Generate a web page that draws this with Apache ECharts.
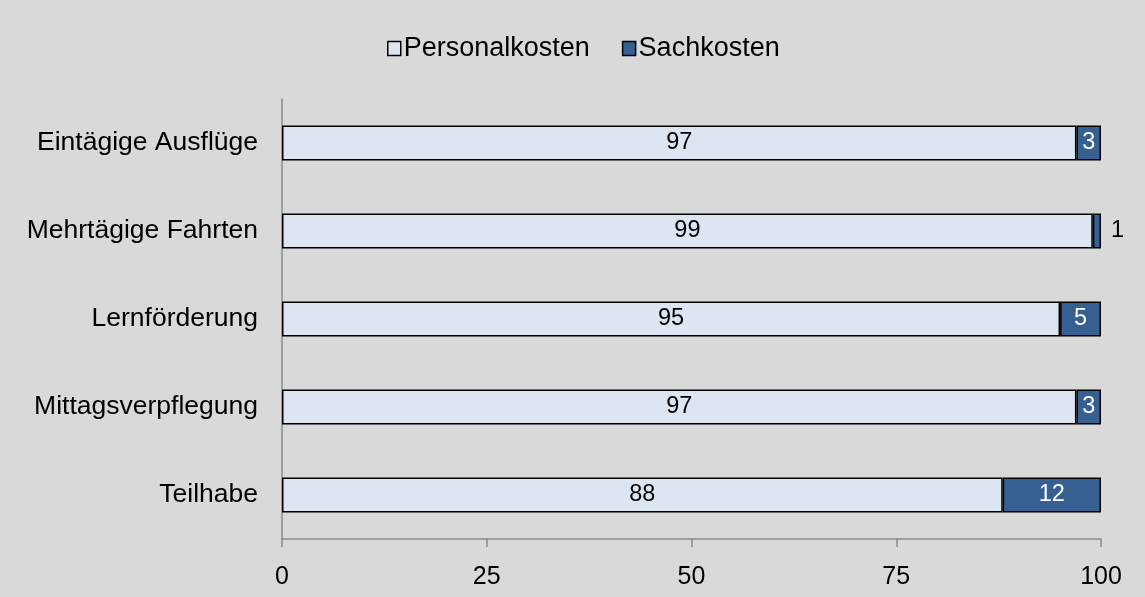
<!DOCTYPE html>
<html>
<head>
<meta charset="utf-8">
<script src="https://cdn.jsdelivr.net/npm/echarts@6/dist/echarts.min.js"></script>
<style>
html,body{margin:0;padding:0;background:#d9d9d9;}
#chart{width:1145px;height:597px;}
</style>
</head>
<body>
<div id="chart"></div>
<script>
var categories = ['Eintägige Ausflüge', 'Mehrtägige Fahrten', 'Lernförderung', 'Mittagsverpflegung', 'Teilhabe'];
var personalkosten = [97, 99, 95, 97, 88];
var sachkosten = [3, 1, 5, 3, 12];
var xTicks = [0, 25, 50, 75, 100];

var FONT = '"Liberation Sans", Arial, sans-serif';
var chart = echarts.init(document.getElementById('chart'), null, {renderer: 'canvas'});

var sachData = sachkosten.map(function (v) {
  if (v < 2) {
    return {value: v, label: {position: 'right', color: '#000', distance: 10}};
  }
  return v;
});

chart.setOption({
  backgroundColor: '#d9d9d9',
  animation: false,
  legend: {
    top: 35,
    left: 387,
    padding: 0,
    icon: 'rect',
    itemWidth: 13,
    itemHeight: 14,
    itemGap: 32,
    textStyle: {fontFamily: FONT, fontSize: 27, color: '#000', padding: [0, 0, 0, -2]},
    data: [
      {name: 'Personalkosten', itemStyle: {borderColor: '#000', borderWidth: 1.5}},
      {name: 'Sachkosten', itemStyle: {borderColor: '#000', borderWidth: 1.5}}
    ]
  },
  grid: {left: 282, right: 44, top: 99, bottom: 58},
  xAxis: {
    type: 'value',
    min: xTicks[0],
    max: xTicks[xTicks.length - 1],
    interval: 25,
    axisLine: {show: true, lineStyle: {color: '#898989', width: 1.5}},
    axisTick: {show: true, length: 8, lineStyle: {color: '#898989', width: 1.5}},
    splitLine: {show: false},
    axisLabel: {fontFamily: FONT, fontSize: 25, color: '#000', margin: 26}
  },
  yAxis: {
    type: 'category',
    inverse: true,
    data: categories,
    axisLine: {show: true, lineStyle: {color: '#898989', width: 1.5}},
    axisTick: {show: false},
    axisLabel: {fontFamily: FONT, fontSize: 26.5, color: '#000', margin: 24}
  },
  series: [
    {
      name: 'Personalkosten',
      type: 'bar',
      stack: 'total',
      barWidth: 35,
      data: personalkosten,
      itemStyle: {color: '#dce6f2', borderColor: '#000', borderWidth: 1.5},
      label: {show: true, position: 'inside', fontFamily: FONT, fontSize: 23.5, color: '#000'}
    },
    {
      name: 'Sachkosten',
      type: 'bar',
      stack: 'total',
      barWidth: 35,
      data: sachData,
      itemStyle: {color: '#376092', borderColor: '#000', borderWidth: 1.5},
      label: {show: true, position: 'inside', fontFamily: FONT, fontSize: 23.5, color: '#fff'}
    }
  ]
});
</script>
</body>
</html>
